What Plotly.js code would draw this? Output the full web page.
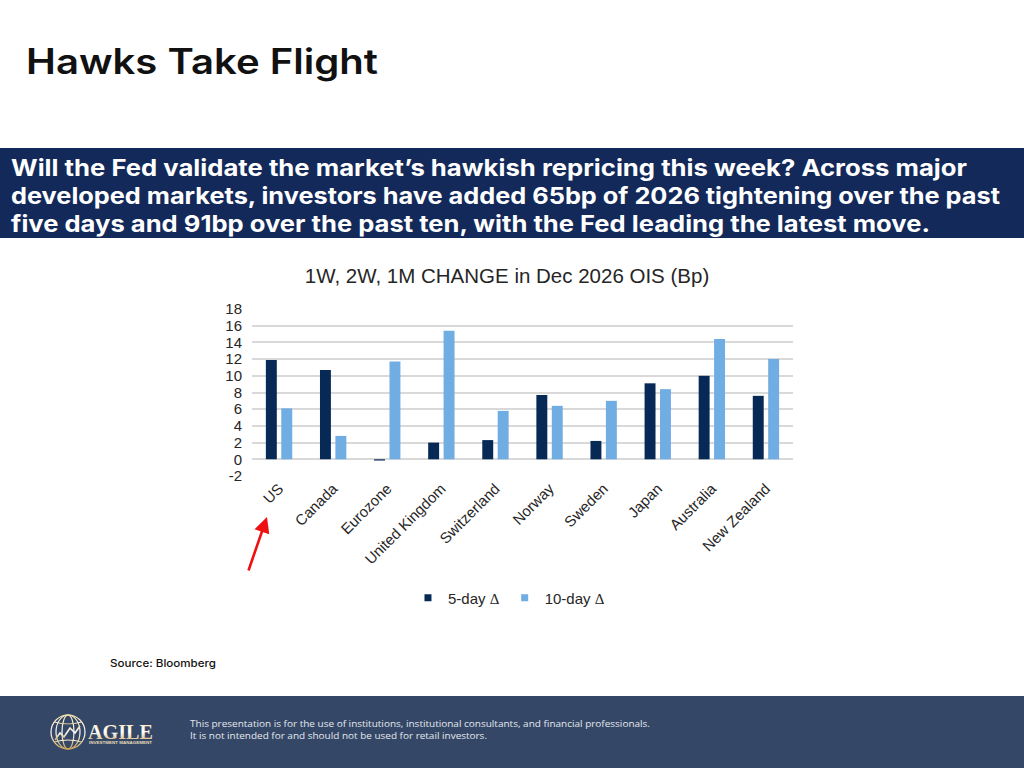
<!DOCTYPE html>
<html>
<head>
<meta charset="utf-8">
<title>Hawks Take Flight</title>
<script src="https://cdn.plot.ly/plotly-3.0.1.min.js"></script>
<style>
  html, body { margin: 0; padding: 0; background: #ffffff; }
  #page { position: relative; width: 1024px; height: 768px; overflow: hidden; background: #ffffff; }
  #chrome { position: absolute; left: 0; top: 0; }
  #chart { position: absolute; left: 0; top: 0; width: 1024px; height: 768px; }
</style>
</head>
<body>
<div id="page">
  <!-- Slide chrome: heading, commentary banner, source line and footer -->
  <svg id="chrome" width="1024" height="768" xmlns="http://www.w3.org/2000/svg">
    <defs>
      <linearGradient id="gold" x1="0" y1="0" x2="0" y2="1">
        <stop offset="0" stop-color="#f3e3b0"/>
        <stop offset="0.5" stop-color="#ffffff"/>
        <stop offset="1" stop-color="#c9a45a"/>
      </linearGradient>
    </defs>
    <text x="26" y="74" font-family="Inter, 'Open Sans', sans-serif" font-weight="600" font-size="35" fill="#111111"
          textLength="352" lengthAdjust="spacingAndGlyphs">Hawks Take Flight</text>

    <rect x="0" y="148" width="1024" height="90" fill="#13295a"/>
    <g font-family="Inter, 'Open Sans', sans-serif" font-weight="700" font-size="22.5" fill="#ffffff">
      <text x="11" y="176" textLength="956" lengthAdjust="spacingAndGlyphs">Will the Fed validate the market’s hawkish repricing this week? Across major</text>
      <text x="11" y="204" textLength="989" lengthAdjust="spacingAndGlyphs">developed markets, investors have added 65bp of 2026 tightening over the past</text>
      <text x="11" y="232" textLength="919" lengthAdjust="spacingAndGlyphs">five days and 91bp over the past ten, with the Fed leading the latest move.</text>
    </g>

    <text x="110" y="667" font-family="Inter, 'Open Sans', sans-serif" font-weight="500" font-size="10.5" fill="#111111"
          textLength="106" lengthAdjust="spacingAndGlyphs">Source: Bloomberg</text>

    <rect x="0" y="696" width="1024" height="72" fill="#344766"/>
    <g stroke="url(#gold)" stroke-width="1.2" fill="none">
      <circle cx="68" cy="732" r="17"/>
      <ellipse cx="68" cy="732" rx="6" ry="17"/>
      <ellipse cx="68" cy="732" rx="12" ry="17"/>
      <line x1="68" y1="715" x2="68" y2="749"/>
      <line x1="51" y1="732" x2="85" y2="732"/>
      <path d="M54.5 722 Q68 726 81.5 722"/>
      <path d="M54.5 742 Q68 738 81.5 742"/>
      <path d="M55 740 L60 733 L64 737 L70 728 L75 733 L80 726" stroke-width="1.6"/>
    </g>
    <text x="88" y="739" font-family="'Liberation Serif', 'DejaVu Serif', serif" font-weight="700" font-size="20" fill="url(#gold)"
          textLength="65" lengthAdjust="spacingAndGlyphs">AGILE</text>
    <text x="89" y="744" font-family="'Liberation Sans', sans-serif" font-weight="700" font-size="3.2" fill="#e8dcb8"
          textLength="63" lengthAdjust="spacingAndGlyphs">INVESTMENT MANAGEMENT</text>
    <g font-family="'Open Sans', 'Liberation Sans', sans-serif" font-size="8.5" fill="#e4e8ee">
      <text x="190" y="727" textLength="460" lengthAdjust="spacingAndGlyphs">This presentation is for the use of institutions, institutional consultants, and financial professionals.</text>
      <text x="190" y="739" textLength="297" lengthAdjust="spacingAndGlyphs">It is not intended for and should not be used for retail investors.</text>
    </g>
  </svg>
  <div id="chart"></div>
</div>

<script>
// Change in Dec 2026 OIS pricing, basis points
const countries = ['US', 'Canada', 'Eurozone', 'United Kingdom', 'Switzerland',
                   'Norway', 'Sweden', 'Japan', 'Australia', 'New Zealand'];
const fiveDayChange = [11.9, 10.7, -0.15, 2.0, 2.3, 7.7, 2.2, 9.1, 10.0, 7.6];
const tenDayChange  = [6.1, 2.8, 11.7, 15.4, 5.8, 6.4, 7.0, 8.4, 14.4, 12.0];
const seriesNames = ['5-day Δ', '10-day Δ'];
const yTickValues = [-2, 0, 2, 4, 6, 8, 10, 12, 14, 16, 18];
const yTickLabels = ['-2', '0', '2', '4', '6', '8', '10', '12', '14', '16', '18'];
const chartTitle = '1W, 2W, 1M CHANGE in Dec 2026 OIS (Bp)';

const darkBlue = '#062a55';
const lightBlue = '#6fade3';
const deltaLabel = name => name.replace('Δ', '<span style="font-family:\'Liberation Serif\', serif">Δ</span>');

const traces = [
  { type: 'bar', x: countries, y: fiveDayChange, name: seriesNames[0],
    marker: { color: darkBlue }, showlegend: false, hoverinfo: 'x+y' },
  { type: 'bar', x: countries, y: tenDayChange, name: seriesNames[1],
    marker: { color: lightBlue }, showlegend: false, hoverinfo: 'x+y' },
  // legend keys with small square swatches
  { type: 'scatter', mode: 'markers', x: [null], y: [null], name: deltaLabel(seriesNames[0]),
    marker: { symbol: 'square', size: 7, color: darkBlue } },
  { type: 'scatter', mode: 'markers', x: [null], y: [null], name: deltaLabel(seriesNames[1]),
    marker: { symbol: 'square', size: 7, color: lightBlue } }
];

const axisFont = { family: "'Liberation Sans', Arial, sans-serif", size: 15, color: '#262626' };

const layout = {
  width: 1024, height: 768,
  margin: { l: 252, r: 231, t: 309, b: 292, pad: 0 },
  paper_bgcolor: 'rgba(0,0,0,0)',
  plot_bgcolor: 'rgba(0,0,0,0)',
  barmode: 'group',
  bargap: 0.43,
  bargroupgap: 0.29,
  title: {
    text: chartTitle,
    font: { family: "'Liberation Sans', Arial, sans-serif", size: 20.5, color: '#262626' },
    x: 507 / 1024, xref: 'container', xanchor: 'center',
    y: 1 - 276 / 768, yref: 'container', yanchor: 'middle'
  },
  xaxis: {
    type: 'category',
    tickangle: -45,
    tickfont: axisFont,
    showgrid: false, showline: false, ticks: '',
    fixedrange: true
  },
  yaxis: {
    range: [-2, 18],
    tickmode: 'array',
    tickvals: yTickValues,
    ticktext: yTickLabels,
    tickfont: axisFont,
    showgrid: true, gridcolor: '#d9d9d9', gridwidth: 2,
    zeroline: true, zerolinecolor: '#d9d9d9', zerolinewidth: 2,
    showline: false, ticks: '',
    ticklabelstandoff: 9,
    fixedrange: true
  },
  legend: {
    orientation: 'h',
    x: 0.475, xanchor: 'center',
    y: -0.73, yanchor: 'middle',
    font: axisFont,
    itemwidth: 30,
    bgcolor: 'rgba(0,0,0,0)'
  },
  annotations: [{
    // red pointer towards the US label
    xref: 'paper', yref: 'paper',
    x: 0.0277, y: -0.2455,
    ax: -19, ay: 55,
    text: '',
    showarrow: true,
    arrowhead: 2, arrowsize: 1.2, arrowwidth: 2.6,
    arrowcolor: '#ee1111',
    standoff: 0
  }],
  showlegend: true
};

Plotly.newPlot('chart', traces, layout, { displayModeBar: false, staticPlot: true });
</script>
</body>
</html>
